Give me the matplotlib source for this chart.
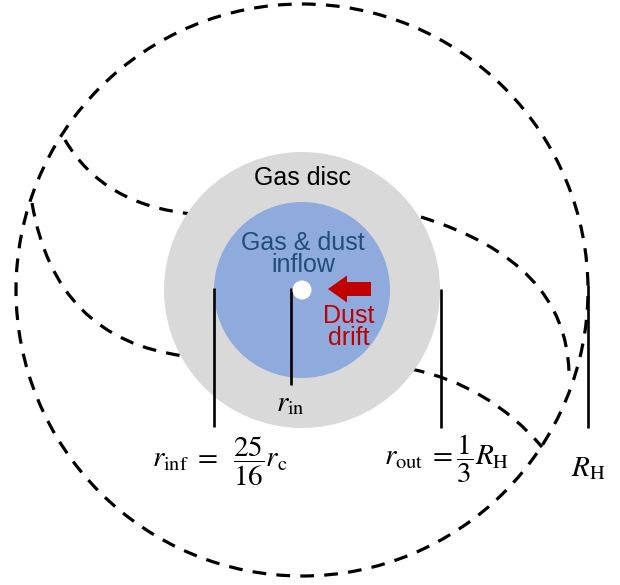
import matplotlib
matplotlib.use('Agg')
import matplotlib.pyplot as plt
from matplotlib.patches import Circle, PathPatch
from matplotlib.path import Path

plt.rcParams['font.family'] = ['Liberation Sans', 'DejaVu Sans']
plt.rcParams['mathtext.fontset'] = 'stix'

# === 几何参数（像素坐标，原点在左上角） ===
center = (302, 290)
r_hill = 286      # 外圈虚线 R_H
r_disc = 138      # 气体盘
r_inflow = 88     # 气体和尘埃内流区
r_planet = 9.5    # 中心白点

# 标尺竖线：相对中心的 x 偏移, 上端 y, 下端 y
marker_dx = [-88, -11, 139, 286]
marker_top = [288, 288, 289, 285]
marker_bottom = [427, 385, 428, 428]

# 标签
marker_labels = [r'$r_{\mathrm{inf}}\;=\;\;\dfrac{25}{16}r_{\mathrm{c}}$',
                 r'$r_{\mathrm{in}}$',
                 r'$r_{\mathrm{out}}\;=\dfrac{1}{3}R_{\mathrm{H}}$',
                 r'$R_{\mathrm{H}}$']
label_xy = [(220, 461), (290, 403), (447, 459), (588, 468)]

# 螺旋流线（二次贝塞尔：起点、控制点、终点）
stream_lines = [
    [(65, 140), (103, 205), (192, 214)],
    [(32, 203), (55, 339), (184, 356)],
    [(421, 217), (566, 262), (569, 372)],
    [(411, 369), (489, 385), (542, 447)],
]

dash_style = (0, (4.3, 3.2))


def main():
    fig = plt.figure(figsize=(6.2, 5.85), dpi=100)
    ax = fig.add_axes([0, 0, 1, 1])
    ax.set_xlim(0, 620)
    ax.set_ylim(585, 0)
    ax.set_aspect('equal')
    ax.axis('off')

    # 外圈 Hill 球
    ax.add_patch(Circle(center, r_hill, fill=False, lw=2.3,
                        ls=dash_style, ec='black', zorder=1))

    # 流线
    for pts in stream_lines:
        path = Path(pts, [Path.MOVETO, Path.CURVE3, Path.CURVE3])
        ax.add_patch(PathPatch(path, fill=False, lw=2.3, ls=dash_style,
                               ec='black', zorder=1))

    # 盘和内流区
    ax.add_patch(Circle(center, r_disc, fc='#D9D9D9', ec='none', zorder=2))
    ax.add_patch(Circle(center, r_inflow, fc='#8FAADC', ec='none', zorder=3))
    ax.add_patch(Circle(center, r_planet, fc='white', ec='none', zorder=5))

    # 竖线标尺
    for dx, y0, y1 in zip(marker_dx, marker_top, marker_bottom):
        ax.plot([center[0] + dx] * 2, [y0, y1], color='black', lw=1.9,
                solid_capstyle='butt', zorder=4)

    for lab, (x, y) in zip(marker_labels, label_xy):
        ax.text(x, y, lab, fontsize=21, ha='center', va='center', zorder=6)

    # 文字
    ax.text(302, 185, 'Gas disc', fontsize=18, ha='center', va='baseline',
            color='black', zorder=6)
    ax.text(303, 250, 'Gas & dust', fontsize=18, ha='center', va='baseline',
            color='#1F4E79', zorder=6)
    ax.text(303, 272, 'inflow', fontsize=18, ha='center', va='baseline',
            color='#1F4E79', zorder=6)
    ax.text(349, 323, 'Dust', fontsize=18, ha='center', va='baseline',
            color='#C00000', zorder=6)
    ax.text(349, 345, 'drift', fontsize=18, ha='center', va='baseline',
            color='#C00000', zorder=6)

    # 尘埃漂移箭头
    ax.arrow(371, 289, -43, 0, width=14, head_width=27, head_length=19,
             length_includes_head=True, fc='#C00000', ec='none', zorder=6)

    fig.savefig('out.png', dpi=100)
    plt.close(fig)


if __name__ == '__main__':
    main()
